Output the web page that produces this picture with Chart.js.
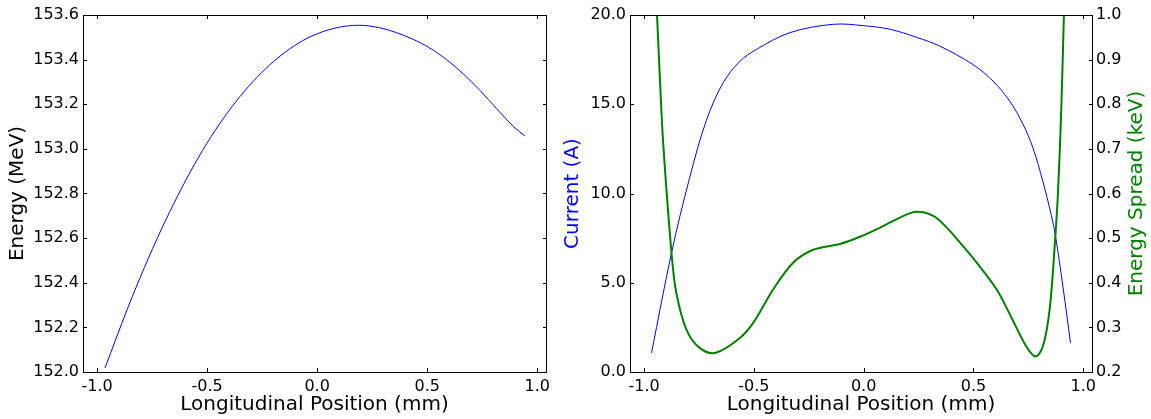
<!DOCTYPE html>
<html>
<head>
<meta charset="utf-8">
<script src="https://cdn.jsdelivr.net/npm/chart.js@4.4.1/dist/chart.umd.min.js"></script>
<style>
  html, body { margin: 0; padding: 0; background: #fff; }
  #wrap { position: relative; width: 1151px; height: 419px; overflow: hidden; }
  canvas { position: absolute; top: 0; }
  #left { left: 0; }
  #right { left: 558px; }
</style>
</head>
<body>
<div id="wrap">
  <canvas id="left" width="558" height="419"></canvas>
  <canvas id="right" width="593" height="419"></canvas>
</div>
<script>
// values
const energyPos = [-0.964, -0.861, -0.785, -0.709, -0.633, -0.557, -0.481, -0.406, -0.330, -0.254, -0.178, -0.102, -0.026, 0.080, 0.188, 0.284, 0.360, 0.436, 0.512, 0.588, 0.664, 0.740, 0.815, 0.891, 0.944];
const energyVals = [152.018, 152.286, 152.468, 152.637, 152.791, 152.931, 153.056, 153.164, 153.259, 153.340, 153.408, 153.463, 153.505, 153.541, 153.554, 153.543, 153.521, 153.491, 153.452, 153.400, 153.336, 153.262, 153.181, 153.101, 153.058];

const currentPos = [-0.966, -0.875, -0.792, -0.716, -0.640, -0.564, -0.488, -0.336, -0.138, 0.0, 0.120, 0.241, 0.346, 0.497, 0.589, 0.665, 0.725, 0.771, 0.816, 0.854, 0.874, 0.908, 0.942];
const currentVals = [1.07, 6.67, 10.9, 14.1, 16.2, 17.4, 18.07, 19.01, 19.48, 19.40, 19.2, 18.75, 18.26, 17.23, 16.30, 15.18, 13.9, 12.56, 10.69, 8.82, 7.6, 4.75, 1.63];

const spreadPos = [-0.941, -0.927, -0.913, -0.875, -0.853, -0.807, -0.747, -0.674, -0.564, -0.503, -0.412, -0.321, -0.230, -0.108, -0.017, 0.089, 0.165, 0.241, 0.317, 0.370, 0.423, 0.515, 0.606, 0.665, 0.741, 0.783, 0.816, 0.847, 0.873, 0.885, 0.900, 0.912];
const spreadVals = [1.0, 0.85, 0.714, 0.467, 0.377, 0.295, 0.254, 0.243, 0.276, 0.310, 0.385, 0.445, 0.474, 0.487, 0.503, 0.527, 0.546, 0.559, 0.550, 0.528, 0.499, 0.445, 0.385, 0.33, 0.257, 0.235, 0.257, 0.340, 0.504, 0.601, 0.788, 1.0];

const xTicks = [-1.0, -0.5, 0.0, 0.5, 1.0];
const energyTicks = [152.0, 152.2, 152.4, 152.6, 152.8, 153.0, 153.2, 153.4, 153.6];
const currentTicks = [0, 5, 10, 15, 20];
const spreadTicks = [0.2, 0.3, 0.4, 0.5, 0.6, 0.7, 0.8, 0.9, 1.0];

const X_MIN = -1.064, X_MAX = 1.04;
const FONT = "'DejaVu Sans', sans-serif";

Chart.defaults.font.family = FONT;
Chart.defaults.color = "#000";

function pts(xs, ys) {
  return xs.map((x, i) => ({ x, y: ys[i] }));
}

function fixTicks(values) {
  return s => { s.ticks = values.map(v => ({ value: v })); };
}

// matplotlib-ish frame with inward tick marks, plus optional rotated right title
const framePlugin = {
  id: "frame",
  afterDraw(chart, args, opts) {
    const { ctx, chartArea: a } = chart;
    const len = 4;
    ctx.save();
    ctx.strokeStyle = "#000";
    ctx.lineWidth = 1;
    ctx.strokeRect(a.left + 0.5, a.top + 0.5, a.right - a.left, a.bottom - a.top);
    ctx.beginPath();
    chart.scales.x.ticks.forEach(t => {
      const px = Math.round(chart.scales.x.getPixelForValue(t.value)) + 0.5;
      ctx.moveTo(px, a.bottom); ctx.lineTo(px, a.bottom - len);
      ctx.moveTo(px, a.top); ctx.lineTo(px, a.top + len);
    });
    opts.sides.forEach(([id, side]) => {
      const sc = chart.scales[id];
      sc.ticks.forEach(t => {
        const py = Math.round(sc.getPixelForValue(t.value)) + 0.5;
        if (side !== "right") { ctx.moveTo(a.left, py); ctx.lineTo(a.left + len, py); }
        if (side !== "left") { ctx.moveTo(a.right + 1, py); ctx.lineTo(a.right + 1 - len, py); }
      });
    });
    ctx.stroke();

    if (opts.rightTitle) {
      const sc = chart.scales.y2;
      ctx.translate(sc.right - 14.5, (a.top + a.bottom) / 2);
      ctx.rotate(-Math.PI / 2);
      ctx.font = "20px " + FONT;
      ctx.fillStyle = opts.rightTitle.color;
      ctx.textAlign = "center";
      ctx.textBaseline = "middle";
      ctx.fillText(opts.rightTitle.text, 0, 0);
    }
    ctx.restore();
  },
};

function xScale() {
  return {
    type: "linear",
    min: X_MIN,
    max: X_MAX,
    afterBuildTicks: fixTicks(xTicks),
    afterFit: s => { s.height = 47; },
    grid: { display: false, drawTicks: false },
    border: { display: false },
    ticks: { font: { size: 16 }, padding: 5, maxRotation: 0, autoSkip: false, callback: v => v.toFixed(1) },
    title: { display: true, text: "Longitudinal Position (mm)", font: { size: 20 }, padding: { top: 0, bottom: 2 } },
  };
}

function yScale(min, max, ticks, title, color, pos, width, pad) {
  return {
    type: "linear",
    position: pos,
    min, max,
    afterBuildTicks: fixTicks(ticks),
    afterFit: s => { s.width = width; },
    grid: { display: false, drawTicks: false },
    border: { display: false },
    ticks: { font: { size: 16 }, padding: 4, autoSkip: false, callback: v => v.toFixed(1) },
    title: { display: !!title, text: title, color, font: { size: 20 }, padding: { top: pad, bottom: pad } },
  };
}

const lineStyle = { showLine: true, pointRadius: 0, tension: 0.35 };

new Chart(document.getElementById("left"), {
  type: "scatter",
  data: {
    datasets: [{
      ...lineStyle,
      data: pts(energyPos, energyVals),
      borderColor: "#0000ff",
      borderWidth: 1,
    }],
  },
  options: {
    responsive: false,
    animation: false,
    devicePixelRatio: 1,
    layout: { padding: { top: 15, right: 12, left: 0, bottom: 0 } },
    plugins: { legend: { display: false }, tooltip: { enabled: false }, frame: { sides: [["y", "both"]] } },
    scales: {
      x: xScale(),
      y: yScale(152.0, 153.6, energyTicks, "Energy (MeV)", "#000", "left", 83, 5.5),
    },
  },
  plugins: [framePlugin],
});

new Chart(document.getElementById("right"), {
  type: "scatter",
  data: {
    datasets: [
      {
        ...lineStyle,
        data: pts(currentPos, currentVals),
        yAxisID: "y",
        borderColor: "#0000ff",
        borderWidth: 1,
        order: 1,
      },
      {
        ...lineStyle,
        data: pts(spreadPos, spreadVals),
        yAxisID: "y2",
        borderColor: "#008000",
        borderWidth: 2,
        order: 0,
      },
    ],
  },
  options: {
    responsive: false,
    animation: false,
    devicePixelRatio: 1,
    layout: { padding: { top: 15, right: 0, left: 0, bottom: 0 } },
    plugins: {
      legend: { display: false },
      tooltip: { enabled: false },
      frame: { sides: [["y", "left"], ["y2", "right"]], rightTitle: { text: "Energy Spread (keV)", color: "#008000" } },
    },
    scales: {
      x: xScale(),
      y: yScale(0, 20, currentTicks, "Current (A)", "#0000ff", "left", 72, 3),
      y2: yScale(0.2, 1.0, spreadTicks, "", "#008000", "right", 59, 2),
    },
  },
  plugins: [framePlugin],
});
</script>
</body>
</html>
